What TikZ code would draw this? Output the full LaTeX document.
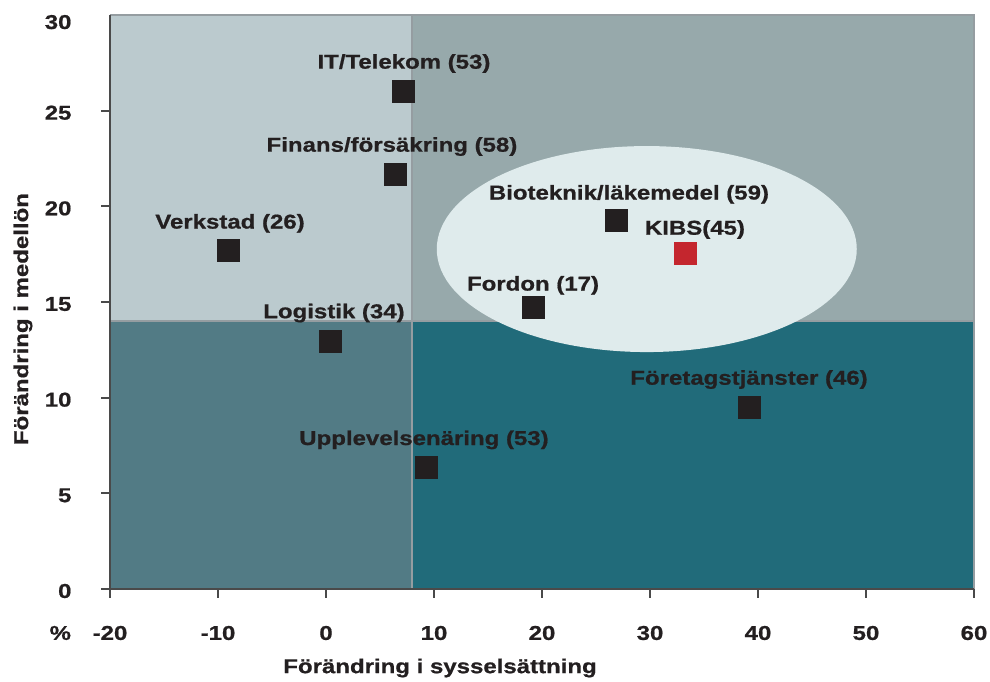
\documentclass[tikz,border=0pt]{standalone}
\usepackage{fontspec}
\newfontfamily\chartfont[FakeStretch=1.2, BoldFeatures={FakeBold=0.8}]{Liberation Sans}
\usetikzlibrary{positioning}
\usepackage{xcolor}
\definecolor{quadTL}{HTML}{BBCACE}
\definecolor{quadTR}{HTML}{97A9AB}
\definecolor{quadBL}{HTML}{527B85}
\definecolor{quadBR}{HTML}{216B7A}
\definecolor{ellfill}{HTML}{DFEBEC}
\definecolor{gridgrey}{HTML}{959DA1}
\definecolor{axisdark}{HTML}{4A4A4A}
\definecolor{txtdark}{HTML}{231F20}
\definecolor{kibsred}{HTML}{C4262E}

\begin{document}
\begin{tikzpicture}[x=10.8pt, y=19.13pt,
    font=\chartfont\bfseries\fontsize{20}{24}\selectfont, text=txtdark,
    sq/.style={fill=txtdark, minimum size=23pt, inner sep=0pt},
    lbl/.style={inner sep=0pt, text depth=0pt},
    divline/.style={gridgrey, line width=2pt},
    axisline/.style={axisdark, line width=2.4pt}]
    \useasboundingbox (-326pt,-92pt) rectangle (664pt,589pt);

    % Quadrants
    \fill[quadTL] (-20,14) rectangle (8,30);
    \fill[quadTR] (8,14) rectangle (60,30);
    \fill[quadBL] (-20,0) rectangle (8,14);
    \fill[quadBR] (8,0) rectangle (60,14);
    \draw[divline] (8,0) -- (8,30);
    \draw[divline] (-20,14) -- (60,14);
    \draw[divline] (-20,30) -- (60,30) -- (60,0);

    % Highlight ellipse
    \fill[ellfill] (29.7,17.77) ellipse [x radius=210pt, y radius=103pt];

    % Axes and ticks
    \draw[axisline] (-20,30) -- (-20,0) -- (60,0);
    \foreach \y in {0,5,...,25}
        \draw[axisline, line width=2pt] (-20,\y) -- ++(-9pt,0);
    \foreach \x in {-20,-10,...,60}
        \draw[axisline, line width=2pt] (\x,0) -- ++(0,-9pt);
    \foreach \y in {0,5,...,25}
        \node[anchor=east] (yl\y) at ([xshift=-35pt,yshift=-2pt]-20,\y) {\y};
    \node[anchor=east] (yl30) at ([xshift=-35pt,yshift=-7pt]-20,30) {30};
    \foreach \x in {-20,-10,...,60}
        \node (xl\x) at ([yshift=-44pt]\x,0) {\x};
    \node (pct) at ([yshift=-44pt]-24.6,0) {\%};
    \node (xtitle) at ([yshift=-79pt]10.56,0) {Förändring i sysselsättning};
    \node[rotate=90] (ytitle) at (-28.06,14.11) {Förändring i medellön};

    % Sectors
    \node[sq] (it) at (7.22,26.03) {};
    \node[sq] (fin) at (6.48,21.69) {};
    \node[sq] (verk) at (-9.07,17.67) {};
    \node[sq] (log) at (0.46,12.96) {};
    \node[sq] (upp) at (9.26,6.33) {};
    \node[sq] (bio) at (26.94,19.24) {};
    \node[sq, fill=kibsred] (kibs) at (33.33,17.56) {};
    \node[sq] (ford) at (19.17,14.69) {};
    \node[sq] (ftj) at (39.17,9.51) {};

    % Sector labels
    \node[lbl, above=10.5pt of it] (itlbl) {IT/Telekom (53)};
    \node[lbl, above=10.5pt of fin, xshift=-4pt] (finlbl) {Finans/försäkring (58)};
    \node[lbl, above=10.5pt of verk, xshift=2pt] (verklbl) {Verkstad (26)};
    \node[lbl, above=11pt of log, xshift=3pt] (loglbl) {Logistik (34)};
    \node[lbl, above=11pt of upp, xshift=-2pt] (upplbl) {Upplevelsenäring (53)};
    \node[lbl, above=9.5pt of bio, xshift=12pt] (biolbl) {Bioteknik/läkemedel (59)};
    \node[lbl, above=6.5pt of kibs, xshift=9pt] (kibslbl) {KIBS(45)};
    \node[lbl, above=5.5pt of ford] (fordlbl) {Fordon (17)};
    \node[lbl, above=10.5pt of ftj] (ftjlbl) {Företagstjänster (46)};
\end{tikzpicture}
\end{document}
